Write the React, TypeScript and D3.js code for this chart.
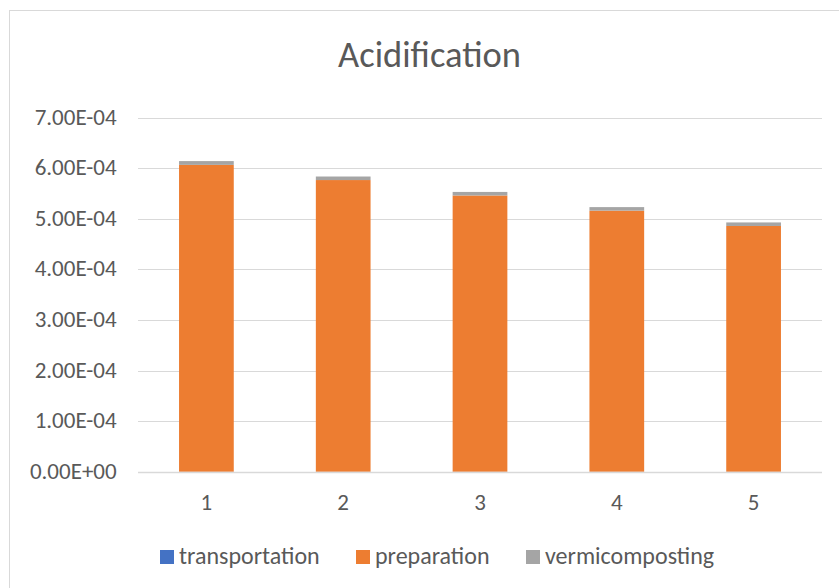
import React from "react";
import * as d3 from "d3";

const categories = ["1", "2", "3", "4", "5"];
const transportation = [2e-7, 2e-7, 2e-7, 2e-7, 2e-7];
const preparation = [6.065e-4, 5.765e-4, 5.46e-4, 5.16e-4, 4.857e-4];
const vermicomposting = [7.5e-6, 7e-6, 7e-6, 7e-6, 7e-6];
const yTicks = [0, 1e-4, 2e-4, 3e-4, 4e-4, 5e-4, 6e-4, 7e-4];
const seriesNames = ["transportation", "preparation", "vermicomposting"];
const seriesColors = ["#4472C4", "#ED7D31", "#A5A5A5"];

const W = 839;
const H = 588;
const font = "Carlito, Calibri, 'Open Sans', 'Noto Sans', sans-serif";

export default function App() {
  const x = d3.scaleBand<string>().domain(categories).range([138, 822]).paddingInner(0.6).paddingOuter(0.3);
  const y = d3.scaleLinear().domain([0, 7e-4]).range([471.7, 117.7]);
  const rows = categories.map((c, i) => ({
    cat: c,
    transportation: transportation[i],
    preparation: preparation[i],
    vermicomposting: vermicomposting[i],
  }));
  const stack = d3.stack<any>().keys(seriesNames)(rows);
  const fmt = (v: number) => {
    const s = v.toExponential(2).toUpperCase();
    return s.replace(/E([+-])(\d)$/, "E$10$2");
  };
  const legendX = [160, 356, 526];
  return (
    <div style={{ position: "absolute", left: 0, top: 0 }}>
      <svg width={W} height={H} style={{ display: "block", background: "#fff" }}>
        <rect x={9.5} y={10.5} width={W + 20} height={H + 20} fill="#fff" stroke="#d9d9d9" strokeWidth={1} />
        <text x={429.5} y={67} textAnchor="middle" fontFamily={font} fontSize={36.5} fill="#595959">
          Acidification
        </text>
        {yTicks.map((t) => (
          <g key={t}>
            <line x1={138} x2={822} y1={Math.round(y(t)) + 0.5} y2={Math.round(y(t)) + 0.5} stroke="#d9d9d9" strokeWidth={t === 0 ? 1.5 : 1} />
            <text x={116.7} y={y(t) + 7} textAnchor="end" fontFamily={font} fontSize={23} fill="#595959">
              {fmt(t)}
            </text>
          </g>
        ))}
        {stack.map((s, si) => (
          <g key={si} fill={seriesColors[si]}>
            {s.map((d, i) => (
              <rect
                key={i}
                x={x(categories[i])!}
                width={x.bandwidth()}
                y={y(d[1])}
                height={Math.max(0, y(d[0]) - y(d[1]))}
              />
            ))}
          </g>
        ))}
        {categories.map((c) => (
          <text key={c} x={x(c)! + x.bandwidth() / 2} y={510} textAnchor="middle" fontFamily={font} fontSize={23} fill="#595959">
            {c}
          </text>
        ))}
        {seriesNames.map((n, i) => (
          <g key={n}>
            <rect x={legendX[i]} y={550} width={14} height={14} fill={seriesColors[i]} />
            <text x={legendX[i] + 19} y={564} fontFamily={font} fontSize={24} fill="#595959">
              {n}
            </text>
          </g>
        ))}
      </svg>
    </div>
  );
}
